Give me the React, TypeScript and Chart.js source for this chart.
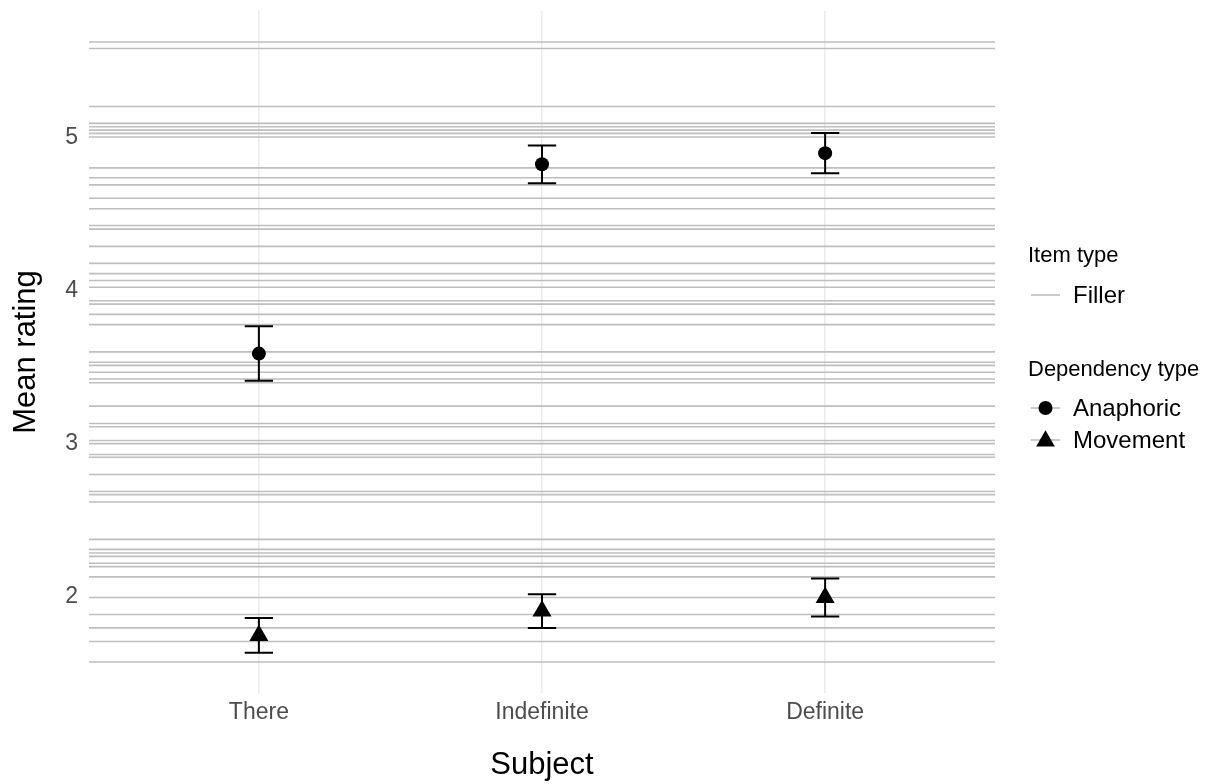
import { useEffect, useRef } from 'react';
import { Chart, registerables } from 'chart.js';

Chart.register(...registerables);

// ---- data ----
const categories = ['There', 'Indefinite', 'Definite'];
const anaphoricMeans = [3.588, 4.824, 4.897];
const anaphoricErr = [0.178, 0.123, 0.131];
const movementMeans = [1.748, 1.907, 1.996];
const movementErr = [0.114, 0.11, 0.124];
const fillerMeans = [
  5.623, 5.58, 5.201, 5.091, 5.069, 5.047, 5.026, 5.002, 4.801, 4.736, 4.69, 4.602, 4.534, 4.424, 4.401,
  4.288, 4.177, 4.11, 4.065, 4.021, 3.933, 3.911, 3.844, 3.777, 3.599, 3.532, 3.511, 3.466, 3.422, 3.398,
  3.245, 3.132, 3.11, 3.021, 3.0, 2.929, 2.911, 2.799, 2.688, 2.667, 2.619, 2.375, 2.31, 2.286, 2.264,
  2.219, 2.197, 2.13, 1.996, 1.885, 1.797, 1.708, 1.574,
];
const yTicks = [2, 3, 4, 5];

const X_MIN = -0.6;
const X_MAX = 2.6;
const Y_MIN = 1.372;
const Y_MAX = 5.825;
const FONT = '"Liberation Sans", Arial, Helvetica, sans-serif';
const FILLER_COLOR = '#BEBEBE';

const errorBars = {
  id: 'errorBars',
  afterDatasetsDraw(chart: any) {
    const { ctx, scales } = chart;
    const x = scales.x;
    const y = scales.y;
    ctx.save();
    ctx.strokeStyle = '#000';
    ctx.lineWidth = 2;
    const groups: [number[], number[]][] = [
      [anaphoricMeans, anaphoricErr],
      [movementMeans, movementErr],
    ];
    groups.forEach(([m, e]) => {
      m.forEach((v, i) => {
        const px = x.getPixelForValue(i);
        const top = y.getPixelForValue(v + e[i]);
        const bot = y.getPixelForValue(v - e[i]);
        const hw = x.getPixelForValue(i + 0.05) - px;
        ctx.beginPath();
        ctx.moveTo(px, top);
        ctx.lineTo(px, bot);
        ctx.moveTo(px - hw, top);
        ctx.lineTo(px + hw, top);
        ctx.moveTo(px - hw, bot);
        ctx.lineTo(px + hw, bot);
        ctx.stroke();
      });
    });
    ctx.restore();
  },
};

function drawTriangle(ctx: CanvasRenderingContext2D, x: number, y: number, r: number) {
  ctx.beginPath();
  let a = 0;
  ctx.moveTo(x + Math.sin(a) * r, y - Math.cos(a) * r);
  a += (2 * Math.PI) / 3;
  ctx.lineTo(x + Math.sin(a) * r, y - Math.cos(a) * r);
  a += (2 * Math.PI) / 3;
  ctx.lineTo(x + Math.sin(a) * r, y - Math.cos(a) * r);
  ctx.closePath();
  ctx.fill();
}

const customLegend = {
  id: 'customLegend',
  afterDraw(chart: any) {
    const ctx: CanvasRenderingContext2D = chart.ctx;
    const left = 1028;
    const keyX0 = 1031;
    const keyX1 = 1060;
    const keyCx = 1045.5;
    const textX = 1073;
    ctx.save();
    ctx.textBaseline = 'middle';
    ctx.textAlign = 'left';
    ctx.fillStyle = '#000';
    ctx.font = `22px ${FONT}`;
    ctx.fillText('Item type', left, 256);
    ctx.fillText('Dependency type', left, 370);

    const drawKeyLine = (y: number) => {
      ctx.strokeStyle = FILLER_COLOR;
      ctx.lineWidth = 1.6;
      ctx.beginPath();
      ctx.moveTo(keyX0, y);
      ctx.lineTo(keyX1, y);
      ctx.stroke();
    };
    ctx.font = `24px ${FONT}`;
    drawKeyLine(295);
    ctx.fillStyle = '#000';
    ctx.fillText('Filler', textX, 296);

    drawKeyLine(408);
    ctx.fillStyle = '#000';
    ctx.beginPath();
    ctx.arc(keyCx, 408, 7, 0, Math.PI * 2);
    ctx.fill();
    ctx.fillText('Anaphoric', textX, 409);

    drawKeyLine(440);
    ctx.fillStyle = '#000';
    drawTriangle(ctx, keyCx, 441, 10.8);
    ctx.fillText('Movement', textX, 441);
    ctx.restore();
  },
};

export default function App() {
  const ref = useRef<HTMLCanvasElement>(null);
  useEffect(() => {
    document.body.style.margin = '0';
    if (!ref.current) return;
    const fillerSets = fillerMeans.map((v) => ({
      label: 'Filler',
      data: [
        { x: X_MIN, y: v },
        { x: X_MAX, y: v },
      ],
      showLine: true,
      borderColor: FILLER_COLOR,
      backgroundColor: FILLER_COLOR,
      borderWidth: 1.6,
      pointRadius: 0,
      order: 2,
    }));
    const chart = new Chart(ref.current, {
      type: 'scatter',
      data: {
        datasets: [
          {
            label: 'Anaphoric',
            data: anaphoricMeans.map((y, i) => ({ x: i, y })),
            pointStyle: 'circle',
            pointRadius: 7,
            backgroundColor: '#000',
            borderColor: '#000',
            borderWidth: 0,
            order: 0,
          },
          {
            label: 'Movement',
            data: movementMeans.map((y, i) => ({ x: i, y })),
            pointStyle: 'triangle',
            pointRadius: 11,
            backgroundColor: '#000',
            borderColor: '#000',
            borderWidth: 0,
            order: 0,
          },
          ...fillerSets,
        ] as any,
      },
      options: {
        animation: false,
        responsive: false,
        maintainAspectRatio: false,
        layout: { padding: { top: 8, right: 214, left: 0, bottom: 0 } },
        plugins: {
          legend: { display: false },
          tooltip: { enabled: false },
        },
        scales: {
          x: {
            type: 'linear',
            min: X_MIN,
            max: X_MAX,
            afterBuildTicks: (s: any) => {
              s.ticks = categories.map((_, i) => ({ value: i }));
            },
            afterFit: (s: any) => {
              s.height = 91;
              s.paddingLeft = 0;
              s.paddingRight = 0;
            },
            ticks: {
              callback: (v: any) => categories[Math.round(Number(v))] ?? '',
              color: '#4D4D4D',
              font: { family: FONT, size: 23 },
              padding: 6,
              maxRotation: 0,
              autoSkip: false,
            },
            grid: { color: '#EBEBEB', lineWidth: 1.5, drawTicks: false },
            border: { display: false },
            title: {
              display: true,
              text: 'Subject',
              color: '#000',
              font: { family: FONT, size: 31 },
              padding: { top: 0, bottom: 0 },
            },
          },
          y: {
            type: 'linear',
            min: Y_MIN,
            max: Y_MAX,
            afterBuildTicks: (s: any) => {
              s.ticks = yTicks.map((v) => ({ value: v }));
            },
            afterFit: (s: any) => {
              s.width = 89;
              s.paddingTop = 0;
              s.paddingBottom = 0;
            },
            ticks: {
              callback: (v: any) => String(v),
              color: '#4D4D4D',
              font: { family: FONT, size: 23 },
              padding: 11,
            },
            grid: { display: false, drawTicks: false },
            border: { display: false },
            title: {
              display: true,
              text: 'Mean rating',
              color: '#000',
              font: { family: FONT, size: 31 },
              padding: { top: 8, bottom: 0 },
            },
          },
        },
      },
      plugins: [errorBars, customLegend],
    } as any);
    return () => chart.destroy();
  }, []);
  return (
    <div style={{ width: 1209, height: 784, background: '#fff' }}>
      <canvas ref={ref} width={1209} height={784} style={{ display: 'block' }} />
    </div>
  );
}
